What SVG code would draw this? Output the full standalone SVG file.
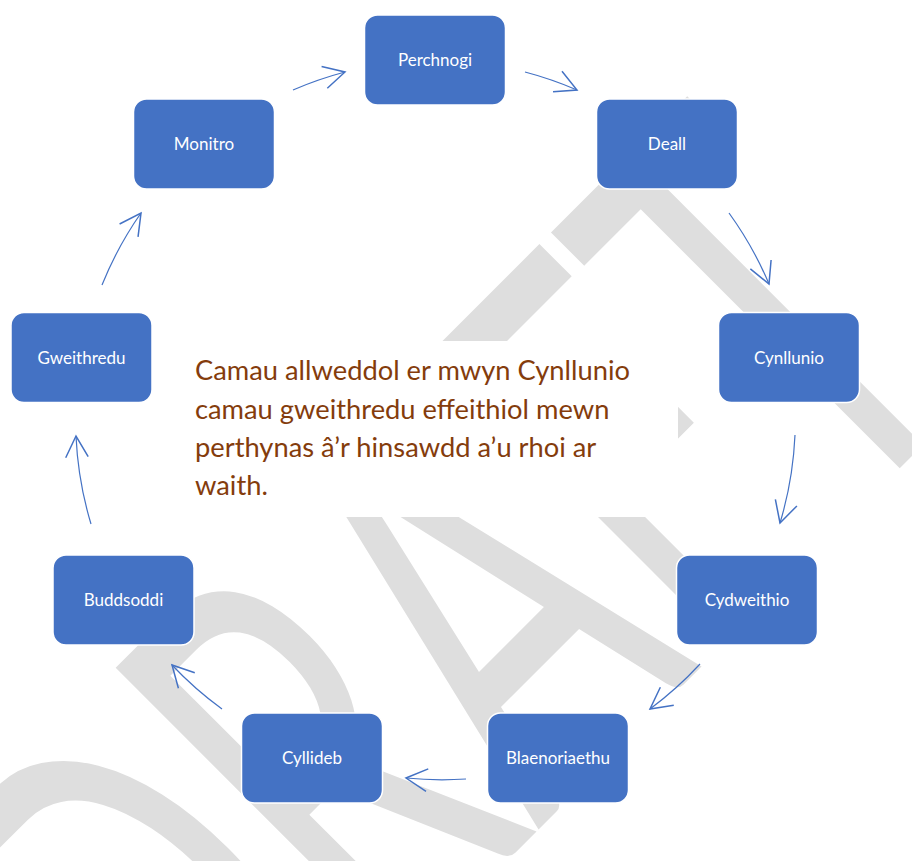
<svg xmlns="http://www.w3.org/2000/svg" width="912" height="861" viewBox="0 0 912 861">
<defs>
<style>
.node rect{fill:#4472C4;stroke:#ffffff;stroke-width:1.5}
.node text{fill:#ffffff;font-family:Lato,"Liberation Sans",sans-serif;font-size:17px;text-anchor:middle}
.conn path{fill:none;stroke:#4472C4;stroke-width:1.2;marker-end:url(#arr)}
.main{fill:#843C0C;font-family:Lato,"Liberation Sans",sans-serif;font-size:27.3px}
.wm{fill:#dedede;font-family:Lato,"Liberation Sans",sans-serif;font-size:415px;text-anchor:middle}
</style>
<marker id="arr" markerUnits="userSpaceOnUse" markerWidth="30" markerHeight="30" refX="0" refY="0" viewBox="-20 -12 24 24" orient="auto" overflow="visible">
<path d="M-17,-9 L0,0 L-17,9" fill="none" stroke="#4472C4" stroke-width="1.2"/>
</marker>
</defs>
<rect width="912" height="861" fill="#ffffff"/>
<g id="watermark" transform="translate(592,776) rotate(-45) scale(1,1.39)">
<text class="wm" x="0" y="0" textLength="1106" lengthAdjust="spacingAndGlyphs">DRAFT</text>
</g>
<g id="textbox">
<rect x="183" y="341" width="495" height="176" fill="#ffffff"/>
<text class="main" x="195" y="380">Camau allweddol er mwyn Cynllunio</text>
<text class="main" x="195" y="419">camau gweithredu effeithiol mewn</text>
<text class="main" x="195" y="457">perthynas â’r hinsawdd a’u rhoi ar</text>
<text class="main" x="195" y="495">waith.</text>
</g>
<g id="connectors" class="conn">
<path d="M293,90 A360,360 0 0 1 345,72"/>
<path d="M525,72 A360,360 0 0 1 577,90"/>
<path d="M729,213 A360,360 0 0 1 769,284"/>
<path d="M795,435 A360,360 0 0 1 780,523"/>
<path d="M700,664 A360,360 0 0 1 650,709"/>
<path d="M466,779 A360,360 0 0 1 406,778"/>
<path d="M222,709 A360,360 0 0 1 172,665"/>
<path d="M91,524 A360,360 0 0 1 76,436"/>
<path d="M102,285 A360,360 0 0 1 141,213"/>
</g>
<g id="node-perchnogi" class="node"><rect x="364.5" y="15" width="141" height="90" rx="13"/><text x="435" y="66">Perchnogi</text></g>
<g id="node-monitro" class="node"><rect x="133.5" y="99" width="141" height="90" rx="13"/><text x="204" y="150">Monitro</text></g>
<g id="node-deall" class="node"><rect x="596.5" y="99" width="141" height="90" rx="13"/><text x="667" y="150">Deall</text></g>
<g id="node-gweithredu" class="node"><rect x="11" y="312.5" width="141" height="90" rx="13"/><text x="81.5" y="363.5">Gweithredu</text></g>
<g id="node-cynllunio" class="node"><rect x="718.5" y="312.5" width="141" height="90" rx="13"/><text x="789" y="363.5">Cynllunio</text></g>
<g id="node-buddsoddi" class="node"><rect x="53" y="555" width="141" height="90" rx="13"/><text x="123.5" y="606">Buddsoddi</text></g>
<g id="node-cydweithio" class="node"><rect x="676.5" y="555" width="141" height="90" rx="13"/><text x="747" y="606">Cydweithio</text></g>
<g id="node-cyllideb" class="node"><rect x="241.5" y="713" width="141" height="90" rx="13"/><text x="312" y="764">Cyllideb</text></g>
<g id="node-blaenoriaethu" class="node"><rect x="487.5" y="713" width="141" height="90" rx="13"/><text x="558" y="764">Blaenoriaethu</text></g>
</svg>
